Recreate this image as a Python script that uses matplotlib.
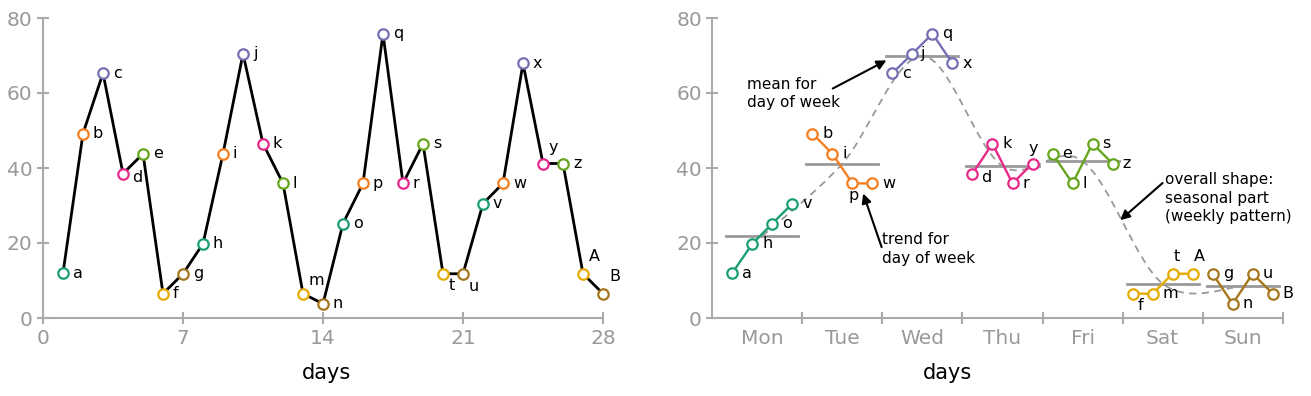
import numpy as np
import matplotlib.pyplot as plt
from matplotlib.path import Path
from matplotlib.patches import PathPatch

# data
days = np.arange(1, 29)
letters = list('abcdefghijklmnopqrstuvwxyzAB')
values = [12.0, 49.2, 65.3, 38.5, 43.8, 6.5, 11.8,
          19.8, 43.8, 70.5, 46.5, 35.9, 6.5, 3.8,
          25.2, 35.9, 75.8, 35.9, 46.5, 11.8, 11.8,
          30.5, 35.9, 67.9, 41.2, 41.2, 11.8, 6.5]
weekdays = ['Mon', 'Tue', 'Wed', 'Thu', 'Fri', 'Sat', 'Sun']
day_colors = ['#1b9e77', '#f47f20', '#7570b3', '#e7298a', '#66a61e', '#e6ab02', '#a6761d']

# label offsets in pixels (left edge of label, vertical centre)
left_offsets = {'d': (9, -4), 'm': (6, 13), 't': (6, -12), 'u': (6, -13),
                'y': (6, 16), 'A': (6, 17), 'B': (6, 17)}
right_offsets = {'d': (9, -4), 'p': (-4, -12), 'y': (-4, 15), 'f': (5, -12),
                 't': (1, 17), 'A': (1, 17), 'j': (8, 0)}

AXIS_GRAY = '#aaaaaa'
TEXT_GRAY = '#999999'


def style_axes(ax):
    for side in ['top', 'right']:
        ax.spines[side].set_visible(False)
    for side in ['left', 'bottom']:
        ax.spines[side].set_color(AXIS_GRAY)
        ax.spines[side].set_linewidth(1.5)
    ax.tick_params(which='major', direction='inout', length=9, width=1.5,
                   color=AXIS_GRAY, labelcolor=TEXT_GRAY, labelsize=14.5)
    ax.tick_params(axis='x', which='major', pad=3.5)
    ax.tick_params(axis='y', which='major', pad=3)
    ax.set_ylim(0, 80)
    ax.set_yticks([0, 20, 40, 60, 80])


def label_point(ax, x, y, text, offset):
    ax.annotate(text, (x, y), xytext=offset, textcoords='offset pixels',
                ha='left', va='center', fontsize=11.5, color='black', zorder=5)


def catmull_rom_path(xs, ys):
    pts = np.column_stack([xs, ys])
    padded = np.vstack([pts[0], pts, pts[-1]])
    verts = [pts[0]]
    codes = [Path.MOVETO]
    for i in range(len(pts) - 1):
        p0, p1, p2, p3 = padded[i], padded[i + 1], padded[i + 2], padded[i + 3]
        verts += [p1 + (p2 - p0) / 6, p2 - (p3 - p1) / 6, p2]
        codes += [Path.CURVE4] * 3
    return Path(verts, codes)


def make_chart():
    fig = plt.figure(figsize=(13.11, 3.96), dpi=100)
    ax1 = fig.add_axes([43 / 1311, 78 / 396, 560 / 1311, 300 / 396])
    ax2 = fig.add_axes([712.3 / 1311, 78 / 396, 570.4 / 1311, 300 / 396])

    # left: time series
    style_axes(ax1)
    ax1.set_xlim(0, 28)
    ax1.set_xticks([0, 7, 14, 21, 28])
    ax1.plot(days, values, color='black', lw=2, zorder=2, clip_on=False)
    for d, v, s in zip(days, values, letters):
        c = day_colors[(d - 1) % 7]
        ax1.plot(d, v, 'o', ms=7.5, mfc='white', mec=c, mew=1.6, zorder=3, clip_on=False)
        label_point(ax1, d, v, s, left_offsets.get(s, (10, 0)))
    ax1.set_xlabel('days', fontsize=15)
    ax1.xaxis.set_label_coords(0.507, -0.15)

    # right: cycle subseries by weekday
    style_axes(ax2)
    ax2.set_xlim(-0.125, 7)
    ax2.set_xticks(range(1, 8))
    ax2.set_xticklabels([])
    ax2.set_xticks(np.arange(7) + 0.5, minor=True)
    ax2.set_xticklabels(weekdays, minor=True)
    ax2.tick_params(axis='x', which='minor', length=0, labelcolor=TEXT_GRAY,
                    labelsize=14.5, pad=8)

    means = []
    for k in range(7):
        idx = [i for i in range(28) if i % 7 == k]
        xs = k + 0.125 + 0.25 * np.arange(len(idx))
        ys = [values[i] for i in idx]
        means.append(np.mean(ys))
        ax2.plot([k + 0.05, k + 0.95], [means[-1]] * 2, color=TEXT_GRAY, lw=2, zorder=1)
        ax2.plot(xs, ys, '-o', color=day_colors[k], lw=1.7, ms=7.5, mfc='white',
                 mec=day_colors[k], mew=1.6, zorder=3, clip_on=False)
        for x, i in zip(xs, idx):
            label_point(ax2, x, values[i], letters[i], right_offsets.get(letters[i], (10, 0)))

    shape = catmull_rom_path(np.arange(7) + 0.5, means)
    ax2.add_patch(PathPatch(shape, fill=False, edgecolor=TEXT_GRAY, lw=1.3,
                            linestyle=(0, (4, 3)), zorder=0.5))

    arrow = dict(arrowstyle='-|>', color='black', lw=1.5, mutation_scale=14,
                 shrinkA=0, shrinkB=0)
    ax2.text(0.31, 64.3, 'mean for\nday of week', fontsize=11, va='top', ha='left',
             linespacing=1.3)
    ax2.annotate('', xy=(2.05, 68.7), xytext=(1.38, 61.2), arrowprops=arrow)
    ax2.text(2.0, 22.9, 'trend for\nday of week', fontsize=11, va='top', ha='left',
             linespacing=1.3)
    ax2.annotate('', xy=(1.76, 33.2), xytext=(1.99, 18.9), arrowprops=arrow)
    ax2.text(5.53, 38.9, 'overall shape:\nseasonal part\n(weekly pattern)', fontsize=11,
             va='top', ha='left', linespacing=1.3)
    ax2.annotate('', xy=(4.97, 26.1), xytext=(5.5, 36.0), arrowprops=arrow)

    ax2.set_xlabel('days', fontsize=15)
    ax2.xaxis.set_label_coords(0.413, -0.15)

    fig.savefig('out.png', dpi=100)


if __name__ == '__main__':
    make_chart()
